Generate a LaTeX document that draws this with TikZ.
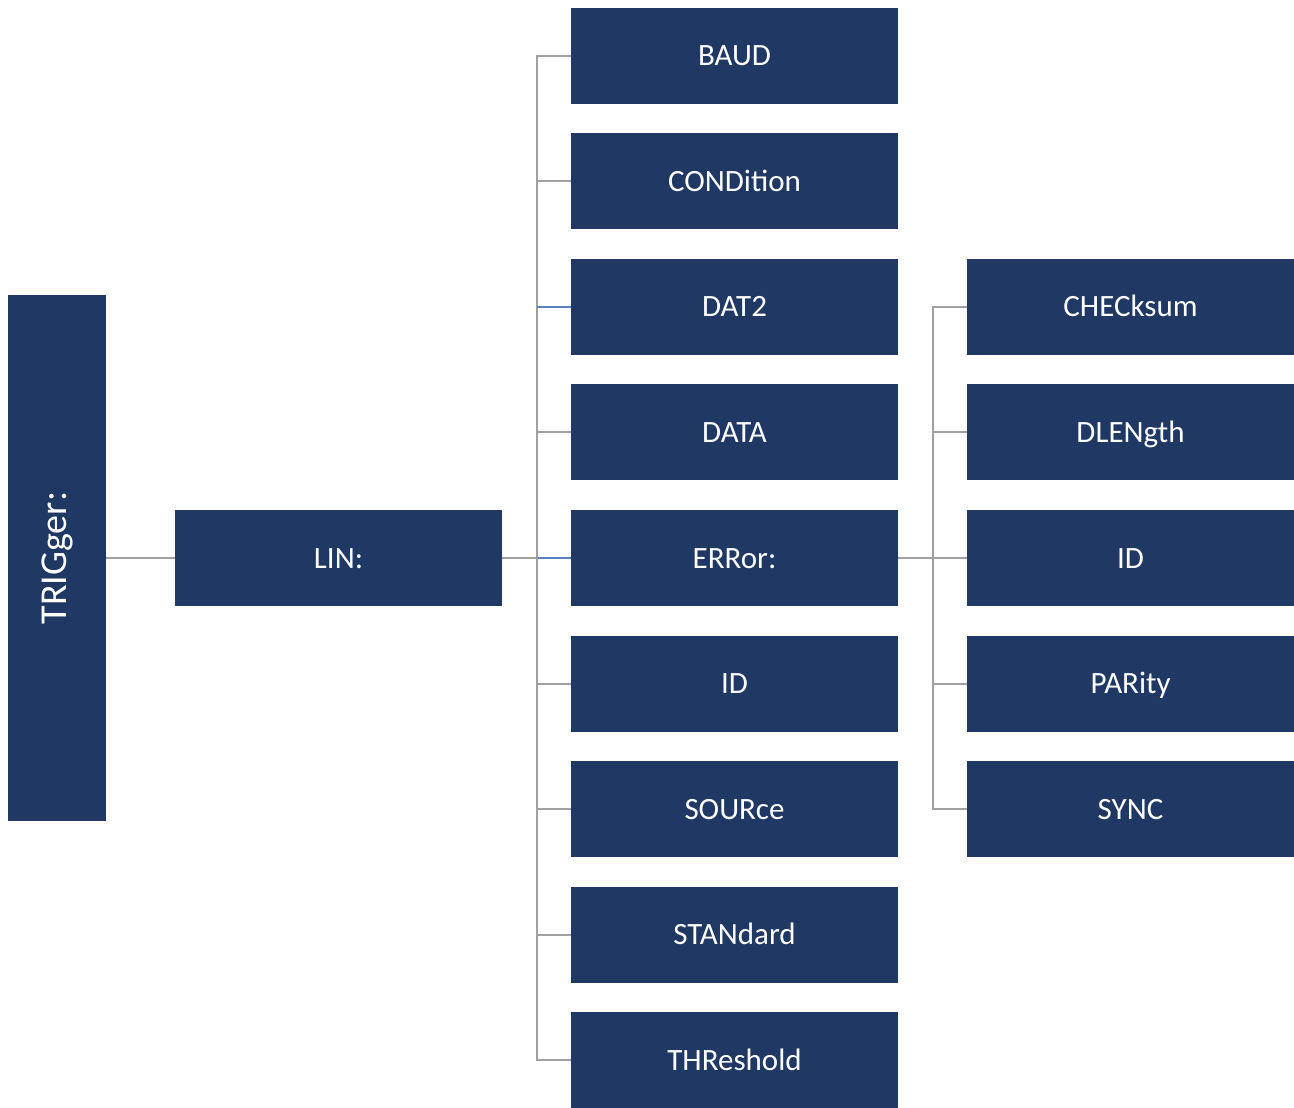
\documentclass[tikz,border=0pt]{standalone}
\usepackage{fontspec}
\setmainfont{Carlito}
\usepackage{tikz}
\usetikzlibrary{positioning}
\usepackage{xcolor}
\definecolor{boxblue}{HTML}{203864}
\definecolor{linegray}{HTML}{A0A0A0}
\definecolor{lineblue}{HTML}{5B7FC0}

\begin{document}
\begin{tikzpicture}[
x=0.5pt, y=-0.5pt,
node distance=14.8pt and 34.5pt,
box/.style={fill=boxblue, text=white, rectangle,
minimum width=163.5pt,
minimum height=48pt,
inner sep=0pt, outer sep=0pt,
text height=13pt, text depth=3pt,
font=\fontsize{15.5}{18}\selectfont,
align=center},
link/.style={draw=linegray, line width=1pt}
]
\useasboundingbox (0,0) rectangle (1294,1107);

% root and LIN
\node[box, minimum width=49pt, minimum height=263pt, text height=, text depth=] (trig) at (57,558)
  {\rotatebox{90}{\fontsize{19}{22}\selectfont TRIGger:}};
\node[box, right=of trig] (lin) {LIN:};

% second level
\node[box, right=of lin] (err) {ERRor:};
\node[box, above=of err] (data) {DATA};
\node[box, above=of data] (dat2) {DAT2};
\node[box, above=of dat2] (cond) {CONDition};
\node[box, above=of cond] (baud) {BAUD};
\node[box, below=of err] (id) {ID};
\node[box, below=of id] (src) {SOURce};
\node[box, below=of src] (std) {STANdard};
\node[box, below=of std] (thr) {THReshold};

% third level (ERRor:)
\node[box, right=of err] (eid) {ID};
\node[box, above=of eid] (dlen) {DLENgth};
\node[box, above=of dlen] (chk) {CHECksum};
\node[box, below=of eid] (par) {PARity};
\node[box, below=of par] (sync) {SYNC};

% connectors
\draw[link] (trig) -- (lin);
\draw[link] (lin) -- (err);
\draw[link, draw=lineblue] (err.west) -- ++(-17.25pt,0);
\draw[link] (baud.west) -- ++(-17.25pt,0) |- (thr.west);
\draw[link] (cond.west) -- ++(-17.25pt,0);
\draw[link, draw=lineblue] (dat2.west) -- ++(-17.25pt,0);
\draw[link] (data.west) -- ++(-17.25pt,0);
\draw[link] (id.west) -- ++(-17.25pt,0);
\draw[link] (src.west) -- ++(-17.25pt,0);
\draw[link] (std.west) -- ++(-17.25pt,0);

\draw[link] (err) -- (eid);
\draw[link] (chk.west) -- ++(-17.25pt,0) |- (sync.west);
\draw[link] (dlen.west) -- ++(-17.25pt,0);
\draw[link] (par.west) -- ++(-17.25pt,0);

\end{tikzpicture}
\end{document}
